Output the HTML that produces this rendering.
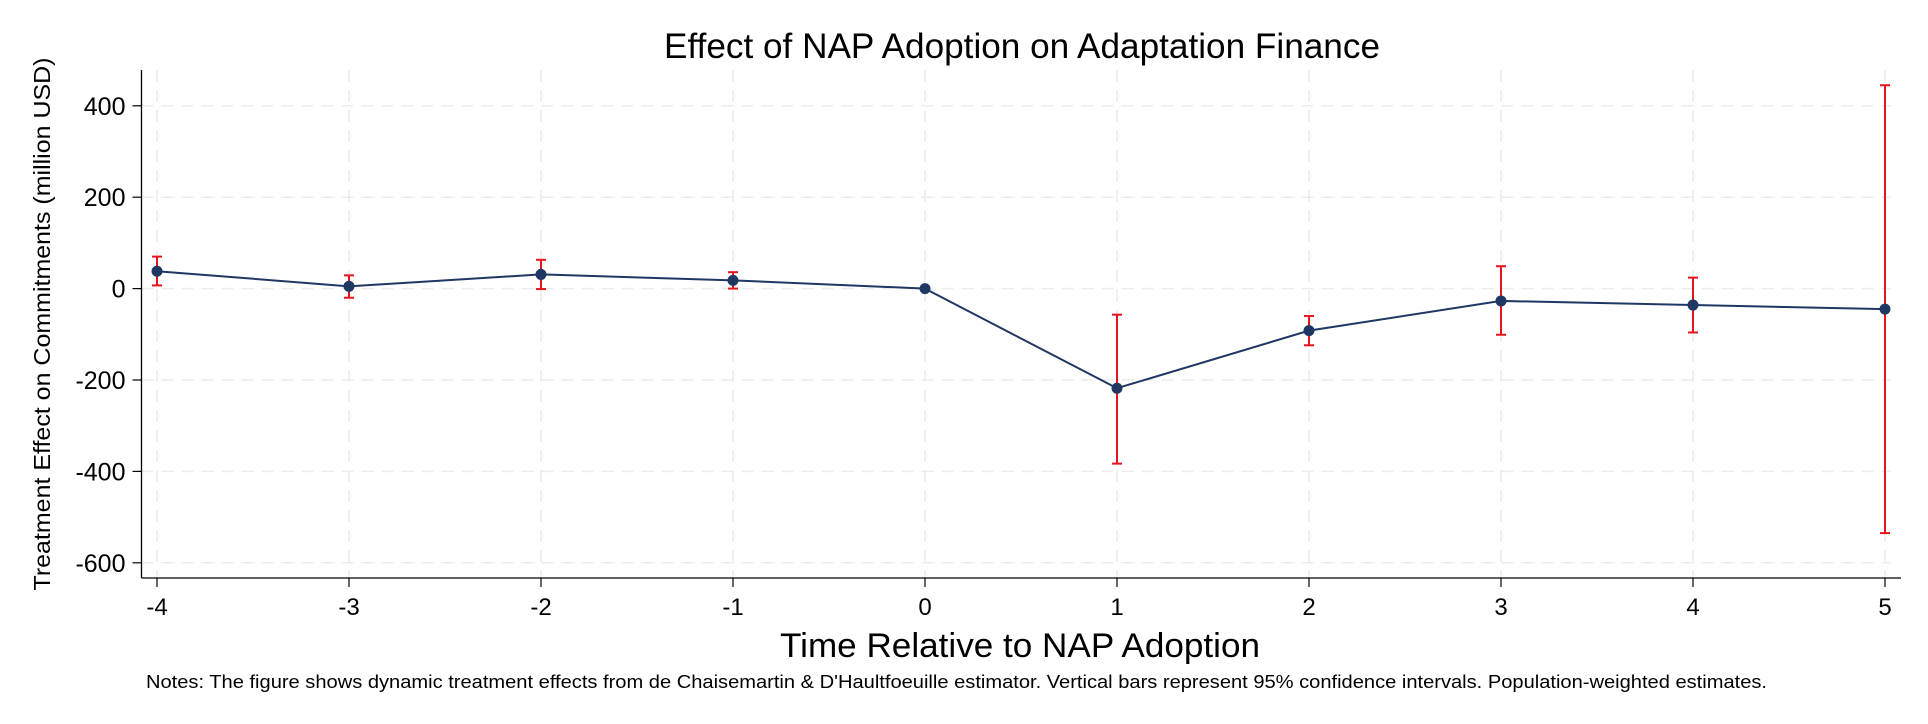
<!DOCTYPE html>
<html><head><meta charset="utf-8"><style>
html,body{margin:0;padding:0;background:#fff;}
svg{display:block;font-family:"Liberation Sans",Arial,sans-serif;}
</style></head><body>
<svg id="chart" width="1928" height="724" viewBox="0 0 1928 724" xmlns="http://www.w3.org/2000/svg">
<rect width="1928" height="724" fill="#fff"/>
<g id="grid"></g>
<g id="axes"></g>
<g id="series"></g>
<text x="1022" y="58" font-size="35" text-anchor="middle" textLength="716" lengthAdjust="spacingAndGlyphs">Effect of NAP Adoption on Adaptation Finance</text>
<text x="1020" y="657" font-size="34" text-anchor="middle" textLength="480" lengthAdjust="spacingAndGlyphs">Time Relative to NAP Adoption</text>
<text transform="translate(50,324) rotate(-90)" font-size="23" text-anchor="middle" textLength="533" lengthAdjust="spacingAndGlyphs">Treatment Effect on Commitments (million USD)</text>
<text x="146" y="688" font-size="18" textLength="1621" lengthAdjust="spacingAndGlyphs">Notes: The figure shows dynamic treatment effects from de Chaisemartin &amp; D'Haultfoeuille estimator. Vertical bars represent 95% confidence intervals. Population-weighted estimates.</text>
</svg>
<script>
const periods = [-4,-3,-2,-1,0,1,2,3,4,5];
const estimates = [38,5,31,18,0,-218,-92,-27,-36,-45];
const ciUpper = [70,29,63,36,0,-57,-60,49,24,445];
const ciLower = [7,-20,-1,0,0,-383,-124,-101,-96,-535];
const yTicks = [400,200,0,-200,-400,-600];
const xTickLabels = ["-4","-3","-2","-1","0","1","2","3","4","5"];

const NS='http://www.w3.org/2000/svg';
const L=141.5,R=1901,T=70,B=578;
function xs(v){return 157+(v-(-4))*(1885-157)/9;}
function ys(v){return 288.6-v*0.457;}
function mk(tag,attrs,parent){const e=document.createElementNS(NS,tag);for(const k in attrs)e.setAttribute(k,attrs[k]);parent.appendChild(e);return e;}
const grid=document.getElementById('grid'),axes=document.getElementById('axes'),series=document.getElementById('series');

yTicks.forEach(t=>{
  const g=mk('line',{x1:L,x2:R-10,y1:ys(t),y2:ys(t),stroke:'#ececec','stroke-width':1.5,'stroke-dasharray':'12,8'},grid);
  
  
  const tk=mk('line',{x1:L-9,x2:L,y1:ys(t),y2:ys(t),stroke:'#000','stroke-width':1.2},axes);
  
  
  const lb=mk('text',{x:L-16,y:ys(t)+9,'font-size':25,'text-anchor':'end'},axes);
  lb.textContent=String(t);
  
  
});
periods.forEach((p,i)=>{
  const g=mk('line',{x1:xs(p),x2:xs(p),y1:T,y2:B,stroke:'#ececec','stroke-width':1.5,'stroke-dasharray':'12,8'},grid);
  
  
  const tk=mk('line',{x1:xs(p),x2:xs(p),y1:B,y2:B+9,stroke:'#000','stroke-width':1.2},axes);
  
  
  const lb=mk('text',{x:xs(p),y:615,'font-size':24,'text-anchor':'middle'},axes);
  lb.textContent=xTickLabels[i];
  
  
});
const ya=mk('line',{x1:L,x2:L,y1:T,y2:B,stroke:'#000','stroke-width':1.3},axes);


const xa=mk('line',{x1:L,x2:R,y1:B,y2:B,stroke:'#000','stroke-width':1.3},axes);



const pl=mk('polyline',{points:periods.map((p,i)=>xs(p)+','+ys(estimates[i])).join(' '),fill:'none',stroke:'#1f3763','stroke-width':2},series);


periods.forEach((p,i)=>{
  const x=xs(p),yu=ys(ciUpper[i]),yl=ys(ciLower[i]);
  const g=mk('g',{},series);
  
  
  mk('line',{x1:x,x2:x,y1:yu,y2:yl,stroke:'#e8141c','stroke-width':2},g);
  mk('line',{x1:x-5,x2:x+5,y1:yu,y2:yu,stroke:'#e8141c','stroke-width':2},g);
  mk('line',{x1:x-5,x2:x+5,y1:yl,y2:yl,stroke:'#e8141c','stroke-width':2},g);
});
periods.forEach((p,i)=>{
  const c=mk('circle',{cx:xs(p),cy:ys(estimates[i]),r:5.5,fill:'#1f3763'},series);
  
  
});
</script>
</body></html>
